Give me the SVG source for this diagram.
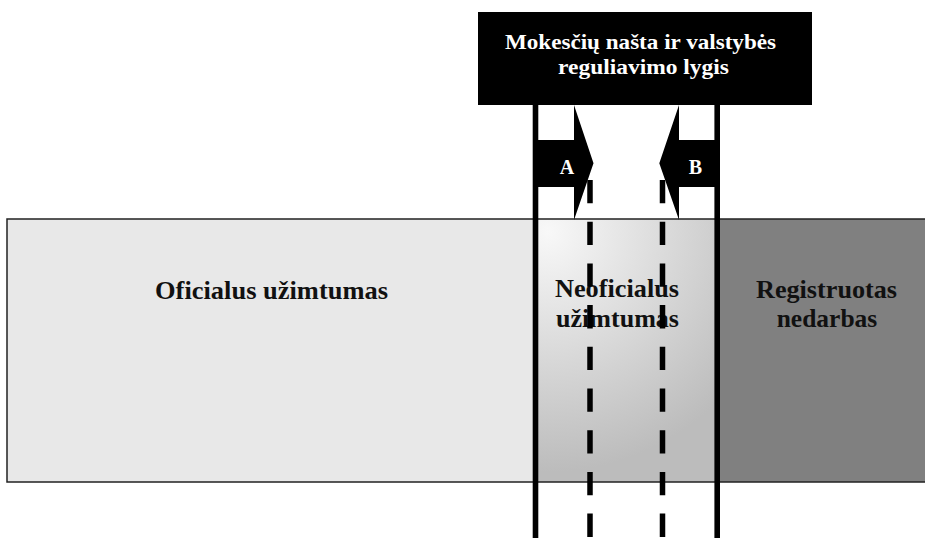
<svg xmlns="http://www.w3.org/2000/svg" width="925" height="538" viewBox="0 0 925 538">
  <style>
    .lbl { font-family: "Liberation Serif", "Times New Roman", serif; font-weight: bold; text-anchor: middle; }
    .dark { fill: #111111; font-size: 26px; }
    .white { fill: #ffffff; }
    .solid { stroke: #000000; stroke-width: 5.6; fill: none; }
    .dash { stroke: #000000; stroke-width: 5.5; fill: none; stroke-dasharray: 23.3 18.4; }
  </style>
  <defs>
    <radialGradient id="gNeo" gradientUnits="userSpaceOnUse" cx="548" cy="232" r="240">
      <stop offset="0" stop-color="#f8f8f8"/>
      <stop offset="1" stop-color="#bcbcbc"/>
    </radialGradient>
  </defs>
  <rect width="925" height="538" fill="#ffffff"/>

  <g id="oficialus">
    <rect x="7" y="219" width="528" height="263" fill="#e8e8e8"/>
    <text class="lbl dark" x="271.5" y="299" font-size="28" textLength="233" lengthAdjust="spacingAndGlyphs">Oficialus užimtumas</text>
  </g>
  <g id="neoficialus">
    <rect x="535" y="219" width="182" height="263" fill="url(#gNeo)"/>
    <text class="lbl dark" x="617" y="297" font-size="28" textLength="124" lengthAdjust="spacingAndGlyphs">Neoficialus</text>
    <text class="lbl dark" x="617.5" y="327" font-size="28" textLength="123" lengthAdjust="spacingAndGlyphs">užimtumas</text>
  </g>
  <g id="registruotas">
    <rect x="717" y="219" width="220" height="263" fill="#808080"/>
    <text class="lbl dark" x="826.5" y="297.5" font-size="28" textLength="141" lengthAdjust="spacingAndGlyphs">Registruotas</text>
    <text class="lbl dark" x="827" y="327" font-size="28" textLength="100.6" lengthAdjust="spacingAndGlyphs">nedarbas</text>
  </g>
  <rect x="7" y="219" width="930" height="263" fill="none" stroke="#222222" stroke-width="1.5"/>

  <g id="title">
    <rect x="478" y="12" width="334" height="93" fill="#000000"/>
    <text class="lbl white" x="640.5" y="48.5" font-size="22" textLength="271" lengthAdjust="spacingAndGlyphs">Mokesčių našta ir valstybės</text>
    <text class="lbl white" x="643.5" y="73.5" font-size="22" textLength="171" lengthAdjust="spacingAndGlyphs">reguliavimo lygis</text>
  </g>

  <g id="connectors">
    <line class="solid" x1="535.5" y1="105" x2="535.5" y2="538"/>
    <line class="solid" x1="717.2" y1="105" x2="717.2" y2="538"/>
    <line class="dash" x1="590" y1="180" x2="590" y2="538"/>
    <line class="dash" x1="662.5" y1="180" x2="662.5" y2="538"/>
  </g>

  <g id="arrowA">
    <polygon points="535,140 574,140 574,105 593.5,163.3 574,220 574,187 535,187" fill="#000000"/>
    <text class="lbl white" x="567" y="173.5" font-size="20">A</text>
  </g>
  <g id="arrowB">
    <polygon points="717,140 679,140 679,105 659.3,163.3 679,220 679,187 717,187" fill="#000000"/>
    <text class="lbl white" x="695.5" y="173.5" font-size="20">B</text>
  </g>
</svg>
